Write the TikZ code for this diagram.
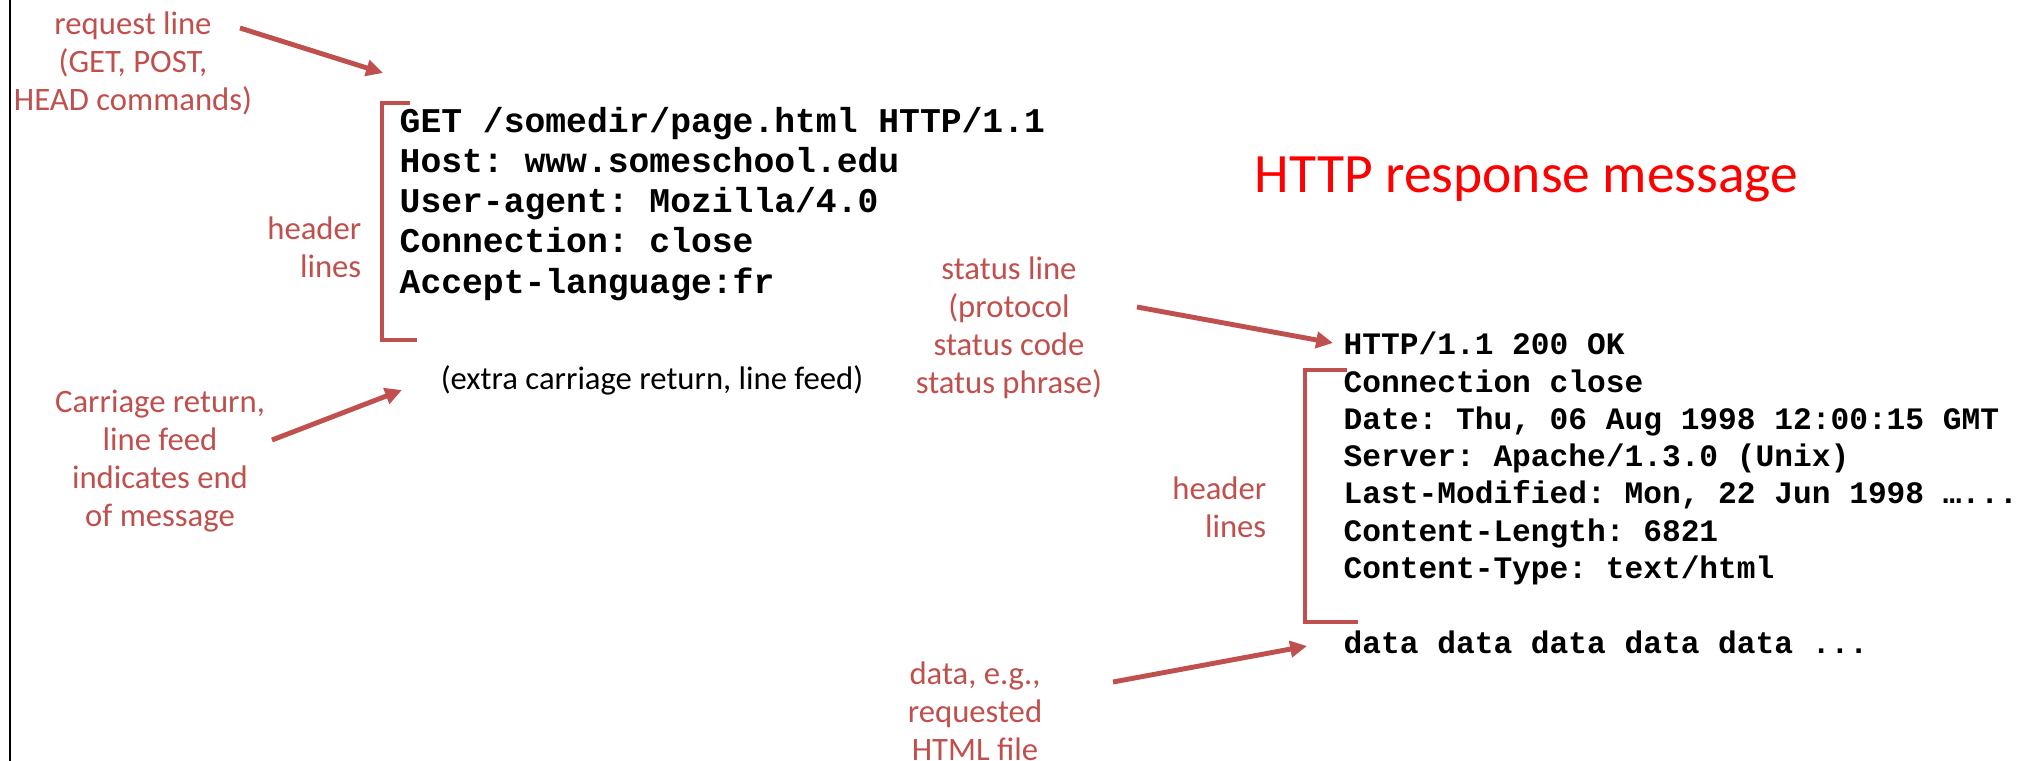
\documentclass[tikz,border=0pt]{standalone}
\usepackage{fontspec}
\setmainfont{Carlito}
\setmonofont{Liberation Mono}
\usetikzlibrary{arrows.meta}
\definecolor{notered}{HTML}{C0504D}

\begin{document}
\begin{tikzpicture}[x=0.1mm,y=-0.1mm,line join=miter,
    note/.style={text=notered,font=\fontsize{9.3}{10.8}\selectfont,align=center,inner sep=0pt,anchor=base},
    reqtext/.style={font=\ttfamily\bfseries\fontsize{9.87}{11.45}\selectfont,align=left,inner sep=0pt,anchor=base west},
    restext/.style={font=\ttfamily\bfseries\fontsize{8.88}{10.6}\selectfont,align=left,inner sep=0pt,anchor=base west},
    pointer/.style={draw=notered,line width=1.4pt,-{Triangle[length=4.8pt,width=4.6pt]}},
    bracket/.style={draw=notered,line width=1.15pt}]
    \useasboundingbox (0,0) rectangle (2029,761);
    \draw[line width=0.7pt] (10,0) -- (10,761);
    % request message (nodes placed by the baseline of their last line)
    \node[note] (reqlabel) at (133,110) {request line\\(GET, POST,\\HEAD commands)};
    \node[note,align=right,anchor=base east] (reqhead) at (362,277) {header\\lines};
    \node[reqtext] (request) at (399,293) {GET /somedir/page.html HTTP/1.1\\Host: www.someschool.edu\\User-agent: Mozilla/4.0\\Connection: close\\Accept-language:fr};
    \node[note,text=black] (extra) at (652,389) {(extra carriage return, line feed)};
    \node[note] (crlabel) at (160,526) {Carriage return,\\line feed\\indicates end\\of message};
    \draw[bracket] (410,103) -- (382,103) -- (382,340) -- (417,340);
    \coordinate (reqtail) at (240,28);
    \coordinate (reqtip) at (383,73);
    \coordinate (crtail) at (272,440);
    \coordinate (crtip) at (402,390);
    \draw[pointer] (reqtail) -- (reqtip);
    \draw[pointer] (crtail) -- (crtip);
    % response message
    \node[text=red,font=\fontsize{15.8}{19}\selectfont,inner sep=0pt,anchor=base west] (title) at (1254,192) {HTTP response message};
    \node[note] (statuslabel) at (1009,393) {status line\\(protocol\\status code\\status phrase)};
    \node[note,align=right,anchor=base east] (reshead) at (1267,537) {header\\lines};
    \node[note] (datalabel) at (975,760) {data, e.g.,\\requested\\HTML file};
    \node[restext] (response) at (1343,653) {HTTP/1.1 200 OK\\Connection close\\Date: Thu, 06 Aug 1998 12:00:15 GMT\\Server: Apache/1.3.0 (Unix)\\Last-Modified: Mon, 22 Jun 1998 …...\\Content-Length: 6821\\Content-Type: text/html\\[10.6pt]data data data data data ...};
    \draw[bracket] (1347,370) -- (1305,370) -- (1305,622) -- (1358,622);
    \coordinate (statustail) at (1137,307);
    \coordinate (statustip) at (1333,343);
    \coordinate (datatail) at (1113,682);
    \coordinate (datatip) at (1307,646);
    \draw[pointer] (statustail) -- (statustip);
    \draw[pointer] (datatail) -- (datatip);
\end{tikzpicture}
\end{document}
